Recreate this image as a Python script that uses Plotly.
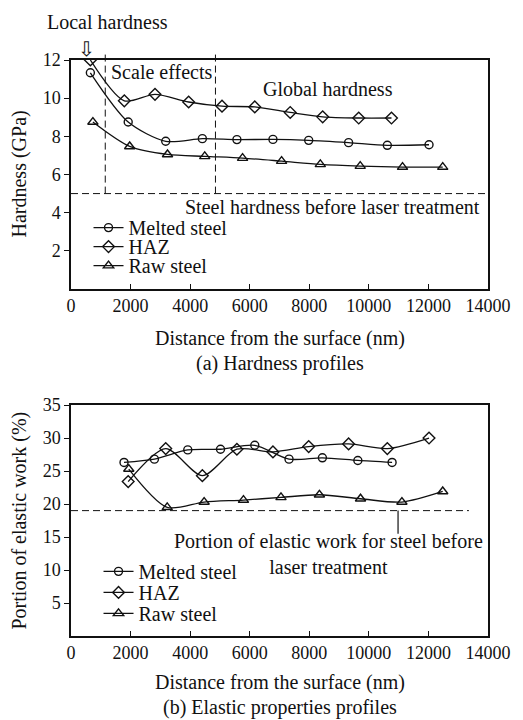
import plotly.graph_objects as go
from plotly.subplots import make_subplots

# ---------------- data: (a) hardness profiles ----------------
melted_h_x = [650, 1920, 3180, 4410, 5570, 6780, 7980, 9320, 10620, 12020]
melted_h_y = [11.33, 8.75, 7.74, 7.88, 7.83, 7.84, 7.79, 7.67, 7.53, 7.56]
haz_h_x = [650, 1790, 2820, 3950, 5070, 6170, 7360, 8450, 9660, 10760]
haz_h_y = [12.0, 9.86, 10.2, 9.8, 9.58, 9.54, 9.25, 9.02, 8.96, 8.96]
raw_h_x = [735, 1970, 3240, 4490, 5760, 7070, 8370, 9710, 11130, 12480]
raw_h_y = [8.75, 7.47, 7.05, 6.95, 6.86, 6.70, 6.53, 6.44, 6.39, 6.39]

steel_hardness = 5.0
scale_effect_bounds = [1150, 4850]

# ---------------- data: (b) elastic work profiles ----------------
melted_e_x = [1780, 2800, 3920, 5020, 6170, 7320, 8440, 9630, 10780]
melted_e_y = [26.3, 26.8, 28.2, 28.3, 28.9, 26.8, 27.0, 26.6, 26.3]
haz_e_x = [1920, 3180, 4410, 5570, 6780, 7980, 9320, 10620, 12020]
haz_e_y = [23.4, 28.4, 24.3, 28.3, 27.9, 28.7, 29.1, 28.4, 30.0]
raw_e_x = [1940, 3230, 4470, 5790, 7050, 8340, 9720, 11110, 12480]
raw_e_y = [25.3, 19.5, 20.3, 20.6, 21.0, 21.4, 20.8, 20.3, 21.9]

steel_elastic = 19.0
steel_elastic_xmax = 13360
steel_elastic_pointer_x = 10980

series_names = ["Melted steel", "HAZ", "Raw steel"]
series_symbols = ["circle-open", "diamond-open", "triangle-up-open"]
series_sizes = [8, 9, 9]

x_ticks = [0, 2000, 4000, 6000, 8000, 10000, 12000, 14000]
x_tick_labels = ["0", "2000", "4000", "6000", "8000", "10000", "12000", "14000"]
h_ticks = [2, 4, 6, 8, 10, 12]
e_ticks = [5, 10, 15, 20, 25, 30, 35]

FONT = "Liberation Serif, Times New Roman, serif"
BLACK = "#111111"

fig = make_subplots(rows=2, cols=1)

top_sets = [(melted_h_x, melted_h_y), (haz_h_x, haz_h_y), (raw_h_x, raw_h_y)]
bot_sets = [(melted_e_x, melted_e_y), (haz_e_x, haz_e_y), (raw_e_x, raw_e_y)]

# legend positions (paper coords) for each single-entry legend
top_leg_y = [0.676 + 0.033, 0.676, 0.676 - 0.033]
bot_leg_y = [0.0757 + 0.0365, 0.0757, 0.0757 - 0.0365]

line_style = dict(color=BLACK, width=1.3, shape="spline", smoothing=0.8)

for i, ((xs, ys), name) in enumerate(zip(top_sets, series_names)):
    fig.add_trace(go.Scatter(
        x=xs, y=ys, name=name, mode="lines+markers", line=line_style,
        marker=dict(symbol=series_symbols[i], size=series_sizes[i], color=BLACK,
                    line=dict(width=1.4, color=BLACK)),
        legend="legend" if i == 0 else f"legend{i + 1}",
    ), row=1, col=1)

for i, ((xs, ys), name) in enumerate(zip(bot_sets, series_names)):
    fig.add_trace(go.Scatter(
        x=xs, y=ys, name=name, mode="lines+markers", line=line_style,
        marker=dict(symbol=series_symbols[i], size=series_sizes[i], color=BLACK,
                    line=dict(width=1.4, color=BLACK)),
        legend=f"legend{i + 4}",
    ), row=2, col=1)

legend_common = dict(font=dict(family=FONT, size=20, color=BLACK), bgcolor="rgba(0,0,0,0)",
                     itemwidth=30, xanchor="left", yanchor="middle", tracegroupgap=0)
legends = {}
for i in range(3):
    key = "legend" if i == 0 else f"legend{i + 1}"
    legends[key] = dict(legend_common, x=0.042, y=top_leg_y[i])
for i in range(3):
    legends[f"legend{i + 4}"] = dict(legend_common, x=0.066, y=bot_leg_y[i])

axis_common = dict(showline=True, mirror=True, linecolor=BLACK, linewidth=1.5,
                   showgrid=False, zeroline=False,
                   tickfont=dict(family=FONT, size=18, color=BLACK), tickcolor=BLACK)

# the page body adds an 8px offset, so the figure is 8px smaller than the window
fig.update_layout(
    width=515, height=712,
    margin=dict(l=63, r=27, t=52, b=84),
    paper_bgcolor="white", plot_bgcolor="white",
    font=dict(family=FONT, size=20, color=BLACK),
    showlegend=True,
    xaxis=dict(axis_common, domain=[0, 1], range=[0, 14000], tickvals=x_ticks,
               ticktext=x_tick_labels, ticks="inside", ticklen=5, anchor="y"),
    yaxis=dict(axis_common, domain=[0.6024, 1], range=[0, 12], tickvals=h_ticks,
               ticks="outside", ticklen=5, anchor="x"),
    xaxis2=dict(axis_common, domain=[0, 1], range=[0, 14000], tickvals=x_ticks,
                ticktext=x_tick_labels, ticks="inside", ticklen=5, anchor="y2"),
    yaxis2=dict(axis_common, domain=[0, 0.401], range=[0, 35], tickvals=e_ticks,
                ticks="outside", ticklen=5, anchor="x2"),
    **legends,
)

dash = "7px,4px"
# steel hardness reference line
fig.add_shape(type="line", xref="x", yref="y", x0=0, x1=14000,
              y0=steel_hardness, y1=steel_hardness,
              line=dict(color=BLACK, width=1, dash=dash))
# scale effects boundaries (extend slightly above the frame)
y_lo = (steel_hardness - 0) / (12 - 0)
for xb in scale_effect_bounds:
    fig.add_shape(type="line", xref="x", yref="y domain", x0=xb, x1=xb,
                  y0=y_lo, y1=1.035, line=dict(color=BLACK, width=1, dash=dash))
# elastic reference line
fig.add_shape(type="line", xref="x2", yref="y2", x0=0, x1=steel_elastic_xmax,
              y0=steel_elastic, y1=steel_elastic,
              line=dict(color=BLACK, width=1, dash=dash))
fig.add_shape(type="line", xref="x2", yref="y2", x0=steel_elastic_pointer_x,
              x1=steel_elastic_pointer_x, y0=steel_elastic, y1=15.5,
              line=dict(color=BLACK, width=1.2))

def ann(**kw):
    base = dict(showarrow=False, font=dict(family=FONT, size=20, color=BLACK))
    base.update(kw)
    fig.add_annotation(**base)

ann(text="Local hardness", xref="x", yref="y domain", x=1220, y=1.166,
    xanchor="center", yanchor="middle")
ann(text="⇩", xref="x", yref="y domain", x=510, y=1.048, xanchor="center", yanchor="middle",
    font=dict(family="DejaVu Sans", size=20, color=BLACK))
ann(text="Scale effects", xref="x", yref="y", x=1280, y=11.37, xanchor="left", yanchor="middle")
ann(text="Global hardness", xref="x", yref="y", x=8620, y=10.5, xanchor="center", yanchor="middle")
ann(text="Steel hardness before laser treatment", xref="x", yref="y", x=13800, y=4.3,
    xanchor="right", yanchor="middle")
ann(text="Portion of elastic work for steel before<br>laser treatment", xref="x2", yref="y2",
    x=8630, y=12.4, xanchor="center", yanchor="middle")

# axis titles and captions
ann(text="Hardness (GPa)", xref="paper", yref="y domain", x=0, y=0.5, xshift=-51,
    textangle=-90, xanchor="center", yanchor="middle")
ann(text="Portion of elastic work (%)", xref="paper", yref="y2 domain", x=0, y=0.5, xshift=-51,
    textangle=-90, xanchor="center", yanchor="middle")
ann(text="Distance from the surface (nm)", xref="x domain", yref="y domain", x=0.5, y=0,
    yshift=-49, xanchor="center", yanchor="middle")
ann(text="(a) Hardness profiles", xref="x domain", yref="y domain", x=0.5, y=0,
    yshift=-74, xanchor="center", yanchor="middle")
ann(text="Distance from the surface (nm)", xref="x2 domain", yref="y2 domain", x=0.5, y=0,
    yshift=-46, xanchor="center", yanchor="middle")
ann(text="(b) Elastic properties profiles", xref="x2 domain", yref="y2 domain", x=0.5, y=0,
    yshift=-71, xanchor="center", yanchor="middle")

fig.write_html("out.html")
